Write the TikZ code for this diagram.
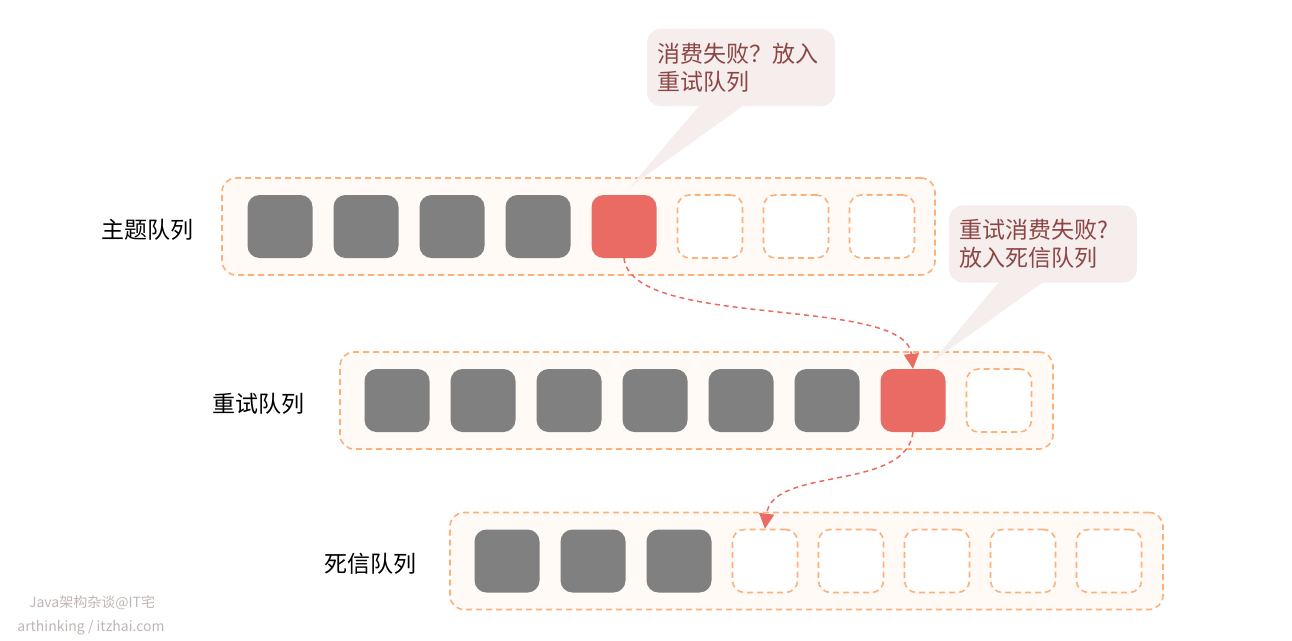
\documentclass[tikz,border=0pt]{standalone}
\usepackage{fontspec}
\newfontfamily\cjk{Noto Sans CJK SC}
\usetikzlibrary{arrows.meta}
\definecolor{cellgrey}{HTML}{808080}
\definecolor{cellred}{HTML}{EA6B64}
\definecolor{dashorange}{HTML}{FDB07A}
\definecolor{queuefill}{HTML}{FFFAF5}
\definecolor{tipfill}{HTML}{F5EEEC}
\definecolor{tiptext}{HTML}{8C4646}
\definecolor{marktext}{HTML}{C4B4B4}
\begin{document}
\begin{tikzpicture}[x=1pt,y=-1pt]
		\tikzstyle{queue}=[draw=dashorange,fill=queuefill,line width=1.6pt,dash pattern=on 6pt off 4pt,rounded corners=14pt,minimum width=713pt,minimum height=97pt]
		\tikzstyle{cell}=[rounded corners=12pt,minimum width=65pt,minimum height=63pt,inner sep=0pt]
		\tikzstyle{full}=[cell,fill=cellgrey]
		\tikzstyle{hit}=[cell,fill=cellred]
		\tikzstyle{free}=[cell,draw=dashorange,fill=white,line width=1.6pt,dash pattern=on 6pt off 4pt]
		\tikzstyle{qname}=[font=\cjk\fontsize{23}{28}\selectfont,text=black]
		\tikzstyle{tip}=[fill=tipfill,rounded corners=14pt,inner xsep=10pt,inner ysep=14pt,align=left,text width=168pt,text=tiptext,font=\cjk\fontsize{23}{28}\selectfont]
		\tikzstyle{move}=[draw=cellred,line width=1.5pt,dash pattern=on 5pt off 4pt,-{Triangle[width=15pt,length=15pt]}]
		\useasboundingbox (0,0) rectangle (1292,640);

		% queues
		\node[queue] (topic) at (578.5,226.5) {};
		\node[queue] (retry) at (696.5,400.5) {};
		\node[queue] (dead)  at (806.5,561)   {};
		\node[qname] (topic-name) at (147,230) {主题队列};
		\node[qname] (retry-name) at (258,404) {重试队列};
		\node[qname] (dead-name)  at (370,564) {死信队列};

		% topic queue
		\node[full] (t1) at (280,226.5) {};
		\node[full] (t2) at (366,226.5) {};
		\node[full] (t3) at (452,226.5) {};
		\node[full] (t4) at (538,226.5) {};
		\node[hit]  (t5) at (624,226.5) {};
		\node[free] (t6) at (710,226.5) {};
		\node[free] (t7) at (796,226.5) {};
		\node[free] (t8) at (882,226.5) {};

		% retry queue
		\node[full] (r1) at (397,400.5) {};
		\node[full] (r2) at (483,400.5) {};
		\node[full] (r3) at (569,400.5) {};
		\node[full] (r4) at (655,400.5) {};
		\node[full] (r5) at (741,400.5) {};
		\node[full] (r6) at (827,400.5) {};
		\node[hit]  (r7) at (913,400.5) {};
		\node[free] (r8) at (999,400.5) {};

		% dead letter queue
		\node[full] (d1) at (507,561)  {};
		\node[full] (d2) at (593,561)  {};
		\node[full] (d3) at (679,561)  {};
		\node[free] (d4) at (765,561)  {};
		\node[free] (d5) at (851,561)  {};
		\node[free] (d6) at (937,561)  {};
		\node[free] (d7) at (1023,561) {};
		\node[free] (d8) at (1109,561) {};

		% callouts
		\coordinate (tip1) at (630,187);
		\coordinate (tip2) at (932,362);
		\fill[tipfill] (tip1) -- (704,100) -- (751,100) -- cycle;
		\fill[tipfill] (tip2) -- (1003,277) -- (1050,277) -- cycle;
		\node[tip] (note1) at (741,67.5) {消费失败？放入\\重试队列};
		\node[tip] (note2) at (1043,244) {重试消费失败?\\放入死信队列};

		\path[move] (t5.south) .. controls (632,330) and (905,295) .. (r7.north);
		\path[move] (r7.south) .. controls (906,492) and (772,466) .. (d4.north);

		\node[text=marktext,font=\cjk\fontsize{14}{16}\selectfont] (mark1) at (92,603) {Java架构杂谈@IT宅};
		\node[text=marktext,font=\cjk\fontsize{14}{16}\selectfont] (mark2) at (91,628) {arthinking / itzhai.com};
\end{tikzpicture}
\end{document}
